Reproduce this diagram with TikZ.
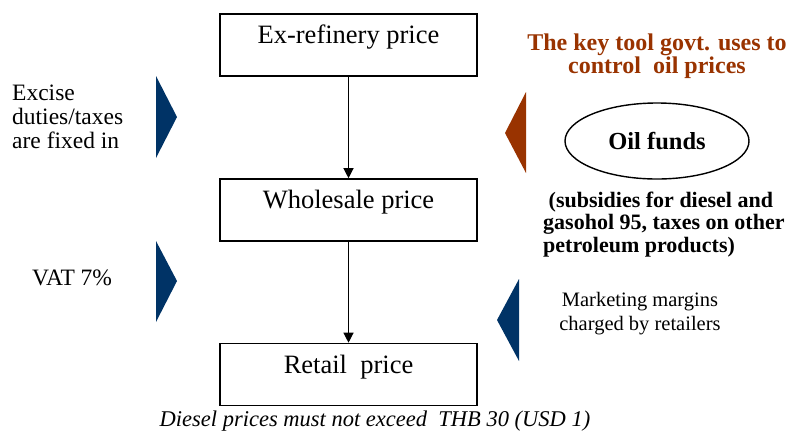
\documentclass[tikz,border=0pt]{standalone}
\usepackage{fontspec}
\setmainfont{Liberation Serif}
\usetikzlibrary{arrows.meta,shapes.geometric}
\definecolor{navy}{HTML}{003366}
\definecolor{rust}{HTML}{993300}
\begin{document}
\begin{tikzpicture}[x=1pt,y=-1pt,
  pricebox/.style={draw,line width=1.6pt,minimum width=257pt,minimum height=62pt,inner sep=0pt,
    text height=10pt,text depth=13pt,font=\fontsize{26.5}{28}\selectfont},
  flow/.style={line width=1.2pt,-{Triangle[length=10pt,width=10pt]}},
  tri/.style={fill=navy},
  lbl/.style={inner sep=0pt}]
\useasboundingbox (0,0) rectangle (794,432);
% boxes
\node[pricebox] (ex) at (348.5,45) {Ex-refinery price};
\node[pricebox] (whole) at (348.5,210) {Wholesale price};
\node[pricebox] (retail) at (348.5,374.5) {Retail\ \ price};
\draw[flow] (ex) -- (whole);
\draw[flow] (whole) -- (retail);
% triangles
\fill[tri] (156,76) -- (177,117) -- (156,158) -- cycle;
\fill[tri] (156,241) -- (177,281) -- (156,322) -- cycle;
\fill[fill=rust] (526,92) -- (505,133) -- (526,173) -- cycle;
\fill[tri] (519,279) -- (497,320) -- (519,361) -- cycle;
% left texts
\node[lbl,anchor=base west,align=left,font=\fontsize{23.5}{23.7}\selectfont] (excise) at (12,148)
  {Excise\\duties/taxes\\are fixed in};
\node[lbl,anchor=base west,font=\fontsize{23.5}{24}\selectfont] (vat) at (32,285) {VAT 7\%};
% right texts
\node[lbl,anchor=base,align=center,text=rust,font=\fontsize{24}{23}\selectfont\bfseries] (key) at (657,73)
  {The key tool govt. uses to\\control\ \ oil prices};
\node[draw,ellipse,line width=1.4pt,minimum width=184pt,minimum height=76pt,inner sep=0pt,
  font=\fontsize{24.5}{26}\selectfont\bfseries] (oil) at (657,141) {Oil funds};
\node[lbl,anchor=base west,align=left,font=\fontsize{22}{22.5}\selectfont\bfseries] (subs) at (543,252)
  {\ (subsidies for diesel and\\gasohol 95, taxes on other\\petroleum products)};
\node[lbl,anchor=base,align=center,font=\fontsize{20.5}{24}\selectfont] (mkt) at (640,330)
  {Marketing margins\\charged by retailers};
\node[lbl,anchor=base,font=\fontsize{22.5}{24}\selectfont\itshape] (diesel) at (375,426)
  {Diesel prices must not exceed\ \ THB 30 (USD 1)};
\end{tikzpicture}
\end{document}
